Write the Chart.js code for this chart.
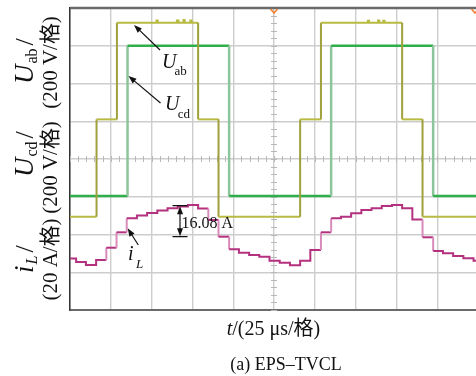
<!DOCTYPE html>
<html><head><meta charset="utf-8">
<script src="https://cdn.jsdelivr.net/npm/chart.js@4/dist/chart.umd.min.js"></script>
<style>html,body{margin:0;padding:0;background:#fff;}canvas{display:block;}</style>
</head><body>
<canvas id="c" width="476" height="376"></canvas>
<script>
// x: time in scope divisions (25 µs/div); y: screen divisions (0 = bottom grid line)
const xTicks = [0,1,2,3,4,5,6,7,8,9];
const yTicks = [0,1,2,3,4,5,6,7,8];
const xMax = 9.95;

// U_ab (200 V/div) — switching instants and levels between them
const uabEdges  = [0,0.65,1.15,2.12,2.15,2.62,2.66,2.78,2.81,2.95,2.98,3.14,3.64,5.64,6.15,7.30,7.33,7.55,7.58,7.68,7.71,8.14,8.64,9.95];
const uabLevels = [2.47,5.05,7.61,7.67,7.61,7.67,7.61,7.68,7.61,7.67,7.61,5.05,2.47,5.05,7.61,7.66,7.61,7.67,7.61,7.66,7.61,5.05,2.47];

// U_cd (200 V/div)
const ucdEdges  = [0,1.41,3.90,6.40,8.90,9.95];
const ucdLevels = [3.02,7.0,3.02,7.0,3.02];

// i_L (20 A/div) — staircase samples
const iLEdges  = [0,0.15,0.39,0.64,0.89,1.14,1.39,1.64,1.89,2.14,2.39,2.64,2.89,3.14,3.39,3.64,3.90,4.14,4.39,4.64,4.89,5.14,5.39,5.64,5.89,6.15,6.40,6.64,6.89,7.14,7.39,7.64,7.89,8.14,8.39,8.64,8.90,9.14,9.39,9.64,9.89,9.95];
const iLLevels = [1.364,1.272,1.192,1.325,1.650,2.058,2.429,2.503,2.570,2.636,2.694,2.742,2.781,2.689,2.384,1.942,1.608,1.518,1.457,1.412,1.306,1.253,1.184,1.306,1.589,2.058,2.429,2.472,2.562,2.649,2.694,2.755,2.781,2.694,2.397,1.926,1.563,1.502,1.430,1.370,1.306];

// texts
const yLabelSymbols = [['U','ab'],['U','cd'],['i','L']];
const yLabelUnits = ['(200 V/格)','(200 V/格)','(20 A/格)'];
const xLabelVar = 't';
const xLabelUnit = '/(25 μs/格)';
const caption = '(a) EPS–TVCL';
const deltaText = '16.08 A';

function steps(edges, levels){
  const pts = [];
  for (let i = 0; i < levels.length; i++){
    pts.push({x: edges[i], y: levels[i]});
    pts.push({x: edges[i+1], y: levels[i]});
  }
  return pts;
}
function segColor(main, edge){
  return ctx => (Math.abs(ctx.p0.parsed.x - ctx.p1.parsed.x) < 1e-9 && Math.abs(ctx.p0.parsed.y - ctx.p1.parsed.y) > 0.3) ? edge : main;
}

const SERIF = '"Liberation Serif","Noto Sans CJK SC"';

function arrow(ctx, x1, y1, x2, y2, len, half){
  len = len || 8; half = half || 3;
  const a = Math.atan2(y2 - y1, x2 - x1);
  ctx.beginPath(); ctx.moveTo(x1, y1);
  ctx.lineTo(x2 - Math.cos(a)*len*0.8, y2 - Math.sin(a)*len*0.8); ctx.stroke();
  ctx.beginPath();
  ctx.moveTo(x2, y2);
  ctx.lineTo(x2 - Math.cos(a)*len + Math.sin(a)*half, y2 - Math.sin(a)*len - Math.cos(a)*half);
  ctx.lineTo(x2 - Math.cos(a)*len - Math.sin(a)*half, y2 - Math.sin(a)*len + Math.cos(a)*half);
  ctx.closePath(); ctx.fill();
}

function rotRuns(ctx, runs, baseX, startY){
  ctx.save(); ctx.translate(baseX, startY); ctx.rotate(-Math.PI/2);
  ctx.textAlign = 'left'; ctx.textBaseline = 'alphabetic';
  let u = 0;
  for (const r of runs){
    ctx.font = r.font; u += (r.dx || 0);
    ctx.fillText(r.text, u, r.dy || 0);
    u += ctx.measureText(r.text).width;
  }
  ctx.restore();
}
function rotCenter(ctx, text, font, baseX, centerY){
  ctx.save(); ctx.translate(baseX, centerY); ctx.rotate(-Math.PI/2);
  ctx.font = font; ctx.textAlign = 'center'; ctx.textBaseline = 'alphabetic';
  ctx.fillText(text, 0, 0);
  ctx.restore();
}

const overlay = {
  id: 'overlay',
  beforeDatasetsDraw(chart){
    const {ctx, chartArea: ca, scales: {x, y}} = chart;
    ctx.save();
    ctx.strokeStyle = '#b8b8b8'; ctx.lineWidth = 1;
    const cy = y.getPixelForValue(4), cx = x.getPixelForValue(5);
    for (let v = 0; v <= xMax + 1e-6; v += 0.2){
      const px = Math.round(x.getPixelForValue(v)) + 0.5;
      ctx.beginPath(); ctx.moveTo(px, cy - 3); ctx.lineTo(px, cy + 3); ctx.stroke();
    }
    for (let v = 0; v <= 8 + 1e-6; v += 0.2){
      const py = Math.round(y.getPixelForValue(v)) + 0.5;
      ctx.beginPath(); ctx.moveTo(cx - 3, py); ctx.lineTo(cx + 3, py); ctx.stroke();
    }
    ctx.restore();
  },
  afterDatasetsDraw(chart){
    const {ctx, chartArea: ca, scales: {x, y}} = chart;
    const X = v => x.getPixelForValue(v), Y = v => y.getPixelForValue(v);
    ctx.save();
    // top frame
    ctx.strokeStyle = '#6a6a6a'; ctx.lineWidth = 2.5;
    ctx.beginPath(); ctx.moveTo(ca.left, ca.top); ctx.lineTo(chart.width, ca.top); ctx.stroke();
    // trigger markers
    ctx.strokeStyle = '#f07f2c'; ctx.lineWidth = 1.5;
    for (const mx of [X(5), chart.width - 1]){
      ctx.beginPath(); ctx.moveTo(mx - 3.5, ca.top + 1); ctx.lineTo(mx, ca.top + 5); ctx.lineTo(mx + 3.5, ca.top + 1); ctx.stroke();
    }
    // annotations
    ctx.strokeStyle = '#111'; ctx.fillStyle = '#111'; ctx.lineWidth = 1.2;
    arrow(ctx, X(2.206), Y(6.887), X(1.569), Y(7.55));
    arrow(ctx, X(2.218), Y(5.483), X(1.434), Y(6.199));
    arrow(ctx, X(1.674), Y(1.722), X(1.414), Y(2.164));
    ctx.textAlign = 'left'; ctx.textBaseline = 'alphabetic';
    ctx.font = 'italic 20px ' + SERIF; ctx.fillText('U', X(2.255), Y(6.41));
    ctx.font = '13px ' + SERIF; ctx.fillText('ab', X(2.56), Y(6.225));
    ctx.font = 'italic 20px ' + SERIF; ctx.fillText('U', X(2.33), Y(5.30));
    ctx.font = '13px ' + SERIF; ctx.fillText('cd', X(2.64), Y(5.086));
    ctx.font = 'italic 20px ' + SERIF; ctx.fillText('i', X(1.42), Y(1.325));
    ctx.font = 'italic 13px ' + SERIF; ctx.fillText('L', X(1.62), Y(1.113));
    // 16.08 A dimension
    const dx = X(2.696), t = Y(2.763), b = Y(1.942), hw = 7.5;
    ctx.lineWidth = 1.3;
    ctx.beginPath(); ctx.moveTo(dx - hw, t); ctx.lineTo(dx + hw, t); ctx.moveTo(dx - hw, b); ctx.lineTo(dx + hw, b); ctx.stroke();
    ctx.lineWidth = 1.2;
    arrow(ctx, dx, (t + b)/2, dx, t + 0.5, 8, 3);
    arrow(ctx, dx, (t + b)/2, dx, b - 0.5, 8, 3);
    ctx.font = '16px ' + SERIF; ctx.fillText(deltaText, X(2.733), Y(2.185));
    ctx.restore();
  },
  afterDraw(chart){
    const {ctx} = chart;
    ctx.save(); ctx.fillStyle = '#111';
    // left column symbols
    const starts = [84, 177, 273];
    yLabelSymbols.forEach((s, i) => {
      const symFont = 'italic 27px ' + SERIF;
      const subFont = (s[1] === 'L' ? 'italic ' : '') + '16px ' + SERIF;
      rotRuns(ctx, [
        {text: s[0], font: symFont},
        {text: s[1], font: subFont, dy: 4, dx: 1},
        {text: '/', font: '26px ' + SERIF, dx: 3}
      ], 33, starts[i]);
    });
    // right column units
    const centers = [62.5, 167.5, 259.5];
    yLabelUnits.forEach((u, i) => rotCenter(ctx, u, '21px ' + SERIF, 57, centers[i]));
    // x label
    ctx.textAlign = 'left'; ctx.textBaseline = 'alphabetic';
    ctx.font = 'italic 20px ' + SERIF; const w1 = ctx.measureText(xLabelVar).width;
    ctx.font = '20px ' + SERIF; const w2 = ctx.measureText(xLabelUnit).width;
    const x0 = 273.5 - (w1 + w2)/2;
    ctx.font = 'italic 20px ' + SERIF; ctx.fillText(xLabelVar, x0, 335);
    ctx.font = '20px ' + SERIF; ctx.fillText(xLabelUnit, x0 + w1, 335);
    // caption
    ctx.textAlign = 'center'; ctx.font = '18px ' + SERIF;
    ctx.fillText(caption, 286, 370);
    ctx.restore();
  }
};

const gridOpts = {color: '#cdcdcd', lineWidth: 1.4, drawTicks: false};
new Chart(document.getElementById('c'), {
  type: 'line',
  data: {
    datasets: [
      {label: 'iL', data: steps(iLEdges, iLLevels), borderWidth: 2,
       borderColor: '#b4317f', segment: {borderColor: segColor('#b4317f', '#d98cbb')}},
      {label: 'Uab', data: steps(uabEdges, uabLevels), borderWidth: 2,
       borderColor: '#b8ba42', segment: {borderColor: segColor('#b8ba42', '#a0a03c')}},
      {label: 'Ucd', data: steps(ucdEdges, ucdLevels), borderWidth: 2.5,
       borderColor: '#2eaf4a', segment: {borderColor: segColor('#2eaf4a', '#8cc49c')}}
    ]
  },
  options: {
    responsive: false, animation: false, devicePixelRatio: 1,
    parsing: true,
    elements: {point: {radius: 0}, line: {tension: 0, borderCapStyle: 'butt', borderJoinStyle: 'miter'}},
    layout: {padding: {left: 70, top: 8, right: 0, bottom: 66}},
    plugins: {legend: {display: false}, tooltip: {enabled: false}, title: {display: false}},
    scales: {
      x: {type: 'linear', min: 0, max: xMax,
          afterBuildTicks: s => { s.ticks = xTicks.map(v => ({value: v})); },
          ticks: {display: false}, grid: gridOpts,
          border: {display: true, color: '#6a6a6a', width: 2}},
      y: {type: 'linear', min: 0, max: 8,
          afterBuildTicks: s => { s.ticks = yTicks.map(v => ({value: v})); },
          ticks: {display: false}, grid: gridOpts,
          border: {display: true, color: '#333', width: 1.5}}
    }
  },
  plugins: [overlay]
});
</script>
</body></html>
